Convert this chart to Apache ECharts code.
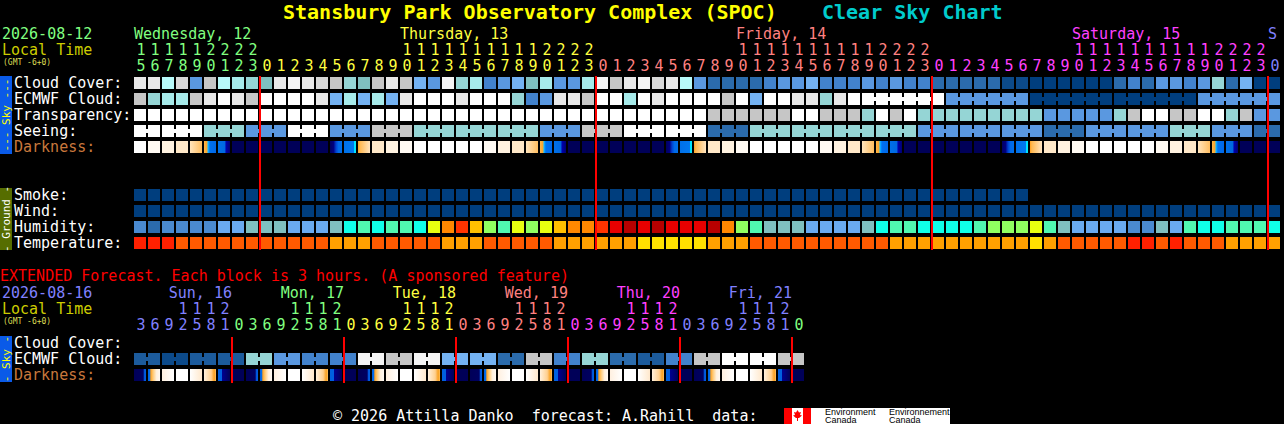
<!DOCTYPE html>
<html>
<head>
<meta charset="utf-8">
<script src="https://cdn.jsdelivr.net/npm/echarts@6/dist/echarts.min.js"></script>
<style>
html,body{margin:0;padding:0;background:#000;}
#chart{width:1284px;height:424px;}
</style>
</head>
<body>
<div id="chart"></div>
<script>
// ================= DATA =================
// hourly forecast categories (local hour of each block)
const mainHours = [15,16,17,18,19,20,21,22,23,
  0,1,2,3,4,5,6,7,8,9,10,11,12,13,14,15,16,17,18,19,20,21,22,23,
  0,1,2,3,4,5,6,7,8,9,10,11,12,13,14,15,16,17,18,19,20,21,22,23,
  0,1,2,3,4,5,6,7,8,9,10,11,12,13,14,15,16,17,18,19,20,21,22,23,
  0];
const mainDays = ['Wednesday, 12','Thursday, 13','Friday, 14','Saturday, 15','S'];
const mainDayColors = ['#80ff80','#ffff40','#ff8080','#ff40ff','#8080ff'];
const mainRows = ['Cloud Cover:','ECMWF Cloud:','Transparency:','Seeing:','Darkness:','','','Smoke:','Wind:','Humidity:','Temperature:'];

// extended (3-hour blocks)
const extHours = [3,6,9,12,15,18,21,
  0,3,6,9,12,15,18,21,
  0,3,6,9,12,15,18,21,
  0,3,6,9,12,15,18,21,
  0,3,6,9,12,15,18,21,
  0,3,6,9,12,15,18,21,
  0];
const extDays = ['Sun, 16','Mon, 17','Tue, 18','Wed, 19','Thu, 20','Fri, 21',''];
const extDayColors = ['#8080ff','#80ff80','#ffff40','#ff8080','#ff40ff','#8080ff','#80ff80'];
const extRows = ['Cloud Cover:','ECMWF Cloud:','Darkness:'];

// shade levels (index into palettes below)
const cloudCover = [13,13,10,12,5,11,10,9,8,7, 13,14,13,12,11,8,7,11,13,11, 6,5,14,8,9,4,5,6,7,9, 5,5,9,14,11,13,14,12,13,10,
  5,3,3,3,3,4,5,5,6,4, 4,4,5,4,5,4,4,3,3,3, 3,3,1,1,0,0,0,0,0,0, 3,4,3,5,5,4,5,8,3,6, 0,0];
const ecmwfCloud = [11,8,9,9,11,13,15,13,11,15, 15,15,15,13,6,9,6,9,6,13, 15,15,15,13,15,15,15,8,4,5, 13,13,11,15,15,9,15,13,15,15,
  15,15,11,15,6,15,15,13,13,8, 13,15,15,15,15,15,15,15,5,5, 5,5,5,5,0,0,0,0,0,0, 0,0,0,0,0,0,5,5,5,5, 5,5];
const transparency = [15,15,15,15,15,15,15,15,15,15, 15,15,15,15,15,15,15,15,15,15, 15,15,15,15,15,15,15,15,15,15, 15,15,15,15,15,15,15,15,15,15,
  15,11,11,11,11,11,11,15,15,11, 11,11,8,15,11,15,8,8,8,8, 8,8,8,8,8,5,5,5,5,5, 8,11,15,15,11,11,15,15,8,11, 5,5];
const seeing = [15,15,15,15,15,8,8,8,5,5, 5,15,15,15,5,5,5,11,11,11, 8,8,8,8,8,8,8,8,8,5, 5,5,11,11,11,15,15,15,15,15,
  15,3,3,3,8,8,8,8,8,8, 8,8,8,8,8,8,5,5,5,5, 5,5,5,5,5,3,3,3,5,5, 5,5,5,5,8,8,8,5,5,5, 3,3];
const darkness = [0,1,2,3,4,5,6,7,7,7, 7,7,7,7,8,9,10,3,2,1, 0,0,0,0,0,1,2,3,4,5, 6,7,7,7,7,7,7,7,8,9,
  10,3,2,1,0,0,0,0,0,1, 2,3,4,5,6,7,7,7,7,7, 7,7,8,9,10,3,2,1,0,0, 0,0,0,1,2,3,4,5,6,7, 7,7];
const smoke = [0,0,0,0,0,0,0,0,0,0, 0,0,0,0,0,0,0,0,0,0, 0,0,0,0,0,0,0,0,0,0, 0,0,0,0,0,0,0,0,0,0,
  0,0,0,0,0,0,0,0,0,0, 0,0,0,0,0,0,0,0,0,0, 0,0,0,0,null,null,null,null,null,null, null,null,null,null,null,null,null,null,null,null, null,null];
const wind = [0,0,0,0,0,0,0,0,0,0, 0,0,0,0,0,0,0,0,0,0, 0,0,0,0,0,0,0,0,0,0, 0,0,0,0,0,0,0,0,0,0,
  0,0,0,0,0,0,0,0,0,0, 0,0,0,0,0,0,0,0,0,0, 0,0,0,0,0,0,0,0,0,0, 0,0,0,0,0,0,0,0,0,0, 0,0];
const humidity = [1,0,1,1,1,1,2,2,3,3, 3,2,2,2,3,4,5,4,5,5, 4,7,9,10,8,6,5,7,6,7, 8,9,9,10,11,12,11,12,11,11,
  11,12,9,6,5,3,3,3,2,2, 2,2,3,4,5,5,4,4,4,4, 5,6,6,6,7,5,3,2,2,2, 2,1,1,3,2,5,4,4,5,5, 5,4];
const temperature = [3,3,3,2,2,2,2,2,2,2, 2,2,2,2,1,1,1,2,2,2, 2,2,1,1,1,2,2,2,2,2, 1,1,1,1,1,1,0,0,0,0,
  0,1,1,1,2,2,2,2,2,2, 2,2,2,2,1,1,1,1,1,1, 1,1,1,1,0,1,2,2,2,2, 2,3,3,2,3,2,2,2,1,1, 1,1];

const extCloudCover = []; // no blocks drawn in the reference
const extEcmwf = [2,2,1,1,2,2,2,2,8,8, 5,5,4,4,4,4,14,14,11,11, 14,14,6,6,6,6,3,3,11,11,
  4,4,8,8,3,3,2,2,4,4, 11,11,15,15,15,15,11,11];
const extDarkness = [1,2,3,4,5,6,7,0, 1,2,3,4,5,6,7,0, 1,2,3,4,5,6,7,0, 1,2,3,4,5,6,7,0, 1,2,3,4,5,6,7,0, 1,2,3,4,5,6,7,0];

// palettes
const skyShades = ['#003e7e','#0c4a8a','#1c5b9c','#2b6bac','#4282cc','#5a98e0','#74b2f2','#7fbfbf',
  '#95d5d5','#a6eaea','#b8fafa','#c6c6c6','#d8d8d8','#e8e8e8','#f4f4f4','#ffffff'];
const darkShades = [
  '#ffffff','#fffaf3','#fff2e0','#ffe8c8',
  [[0,'#ffe4bc'],[1,'#ffbe60']],
  [[0,'#ffb848'],[0.28,'#f8a028'],[0.3,'#20c8ff'],[0.42,'#0090ff'],[0.5,'#0070f0'],[1,'#0068e8']],
  [[0,'#0070e8'],[0.58,'#0068e0'],[0.66,'#0000b0'],[1,'#000070']],
  '#000058',
  [[0,'#000060'],[0.3,'#000080'],[0.5,'#0040d0'],[0.7,'#0068e8'],[1,'#0070e8']],
  [[0,'#0070e8'],[0.82,'#0078f0'],[0.86,'#00e0ff'],[1,'#00e8ff']],
  [[0,'#ffa020'],[0.15,'#ffb850'],[1,'#ffe4c0']]
];
const extDarkShades = [
  '#000058',
  [[0,'#000058'],[0.78,'#000060'],[0.82,'#0050d8'],[1,'#0060e0']],
  [[0,'#0060e0'],[0.18,'#0070f0'],[0.22,'#ffa020'],[0.4,'#ffc870'],[0.7,'#fff0dc'],[1,'#fffaf4']],
  [[0,'#fff0e0'],[1,'#ffffff']],
  '#ffffff',
  [[0,'#ffffff'],[1,'#ffe8cc']],
  [[0,'#fff0dc'],[0.6,'#ffd090'],[0.85,'#f8a020'],[1,'#ffc060']],
  [[0,'#0060e0'],[0.3,'#0060e0'],[0.36,'#000090'],[1,'#000058']]
];
const smokeShades = ['#003e7e'];
const windShades = ['#003e7e'];
const humidityShades = ['#2b6bac','#4a8ad0','#6aaaf0','#7fbfbf','#10ffe8','#50f8b0','#90ff60',
  '#e8ff10','#ffc000','#ff8800','#ff3300','#e80000','#b80000'];
const temperatureShades = ['#ffe000','#ffa000','#ff5a00','#ff2000'];

// ================= LAYOUT HELPERS =================
const FONT = '"DejaVu Sans Mono", monospace';
const LH = 12; // compact line height so stacked label rows do not overlap
const ECMWF_HOURLY = 52; // ECMWF is hourly for the first cells, then 6-hourly blocks

function dayIndexOf(hours) {
  let d = 0;
  return hours.map((h, i) => { if (i > 0 && h === 0) d++; return d; });
}
const mainDayOf = dayIndexOf(mainHours);
const extDayOf = dayIndexOf(extHours);

function groups(hours, startTest) {
  let g = 0;
  return hours.map((h, i) => { if (i > 0 && startTest(h, i)) g++; return g; });
}
const seeingGroup = groups(mainHours, h => h % 3 === 2);
const ecmwfGroup = groups(mainHours, (h, i) => i < ECMWF_HOURLY || h % 6 === 1);
const extEcmwfGroup = groups(extHours, h => h % 6 === 3);

function paint(s) {
  if (Array.isArray(s)) {
    return new echarts.graphic.LinearGradient(0, 0, 1, 0, s.map(p => ({offset: p[0], color: p[1]})));
  }
  return s;
}

function rowSeries(gridIdx, rowIdx, values, shades, groupOf) {
  const data = [];
  values.forEach((v, i) => { if (v !== null && v !== undefined) data.push([i, rowIdx, v]); });
  return {
    type: 'custom',
    xAxisIndex: gridIdx === 0 ? 0 : 2,
    yAxisIndex: gridIdx,
    z: 2,
    silent: true,
    data: data,
    renderItem: function (params, api) {
      const i = api.value(0);
      const v = api.value(2);
      const c = api.coord([i, rowIdx]);
      const bw = api.size([1, 0])[0];
      const left = c[0] - bw / 2;
      const fill = paint(shades[v]);
      const children = [{
        type: 'rect',
        shape: {x: left, y: c[1] - 6, width: bw - 2, height: 12},
        style: {fill: fill}
      }];
      if (groupOf && i + 1 < values.length && groupOf[i] === groupOf[i + 1] && values[i + 1] === v) {
        children.push({
          type: 'rect',
          shape: {x: left + bw - 3, y: c[1] - 2, width: 4, height: 4},
          style: {fill: fill}
        });
      }
      return {type: 'group', children: children};
    }
  };
}

function midnightSeries(gridIdx, hours, rowCount, topPad, botPad) {
  const data = [];
  hours.forEach((h, i) => { if (h === 0) data.push([i, 0]); });
  return {
    type: 'custom',
    xAxisIndex: gridIdx === 0 ? 0 : 2,
    yAxisIndex: gridIdx,
    z: 5,
    silent: true,
    data: data,
    renderItem: function (params, api) {
      const i = api.value(0);
      const top = api.coord([i, 0]);
      const bot = api.coord([i, rowCount - 1]);
      const bw = api.size([1, 0])[0];
      const x = top[0] - bw / 2;
      return {type: 'rect', shape: {x: x - 1, y: top[1] - topPad, width: 2, height: bot[1] + botPad - (top[1] - topPad)},
        style: {fill: '#ff0000'}};
    }
  };
}

function hourAxis(gridIdx, hours, dayOf, colors, offset, margin, tens) {
  return {
    gridIndex: gridIdx,
    type: 'category',
    position: 'top',
    offset: offset,
    data: hours.map((h, i) => 'c' + i),
    axisLine: {show: false}, axisTick: {show: false}, splitLine: {show: false},
    axisLabel: {
      interval: 0, margin: margin, verticalAlign: 'middle',
      fontFamily: FONT, fontSize: 15, lineHeight: LH,
      formatter: function (v) {
        const h = hours[parseInt(v.slice(1), 10)];
        if (tens) return h >= 10 ? String(Math.floor(h / 10)) : '';
        return String(h % 10);
      },
      color: function (v) { return colors[dayOf[parseInt(v.slice(1), 10)]]; }
    }
  };
}

function rowAxis(gridIdx, rows, darkRow) {
  return {
    gridIndex: gridIdx,
    type: 'category',
    inverse: true,
    data: rows,
    axisLine: {show: false}, axisTick: {show: false}, splitLine: {show: false},
    axisLabel: {
      interval: 0, align: 'left', margin: 120,
      fontFamily: FONT, fontSize: 15, lineHeight: LH,
      color: function (v) { return v === darkRow ? '#c8783c' : '#ffffff'; }
    }
  };
}

const R = name => mainRows.indexOf(name);
const E = name => extRows.indexOf(name);

const option = {
  backgroundColor: '#000000',
  animation: false,
  grid: [
    {left: 134, top: 75, width: 1148, height: 176, containLabel: false, outerBoundsMode: 'none'},
    {left: 134, top: 335, width: 672, height: 48, containLabel: false, outerBoundsMode: 'none'}
  ],
  xAxis: [
    hourAxis(0, mainHours, mainDayOf, mainDayColors, 0, 9, false),
    hourAxis(0, mainHours, mainDayOf, mainDayColors, 16, 9, true),
    hourAxis(1, extHours, extDayOf, extDayColors, 0, 10, false),
    hourAxis(1, extHours, extDayOf, extDayColors, 16, 10, true)
  ],
  yAxis: [
    rowAxis(0, mainRows, 'Darkness:'),
    rowAxis(1, extRows, 'Darkness:')
  ],
  series: [
    rowSeries(0, R('Cloud Cover:'), cloudCover, skyShades, null),
    rowSeries(0, R('ECMWF Cloud:'), ecmwfCloud, skyShades, ecmwfGroup),
    rowSeries(0, R('Transparency:'), transparency, skyShades, null),
    rowSeries(0, R('Seeing:'), seeing, skyShades, seeingGroup),
    rowSeries(0, R('Darkness:'), darkness, darkShades, null),
    rowSeries(0, R('Smoke:'), smoke, smokeShades, null),
    rowSeries(0, R('Wind:'), wind, windShades, null),
    rowSeries(0, R('Humidity:'), humidity, humidityShades, null),
    rowSeries(0, R('Temperature:'), temperature, temperatureShades, null),
    rowSeries(1, E('Cloud Cover:'), extCloudCover, skyShades, null),
    rowSeries(1, E('ECMWF Cloud:'), extEcmwf, skyShades, extEcmwfGroup),
    rowSeries(1, E('Darkness:'), extDarkness, extDarkShades, null),
    midnightSeries(0, mainHours, mainRows.length, 7, 7),
    midnightSeries(1, extHours, extRows.length, 6, 8)
  ]
};

const chart = echarts.init(document.getElementById('chart'), null, {renderer: 'svg'});
chart.setOption(option);

// ================= TEXT / DECORATION =================
function txt(x, y, text, fill, font, align, extra, lh) {
  const el = {
    type: 'text', x: x, y: y, silent: true, z: 10,
    style: {text: text, fill: fill, font: font, align: align || 'left', verticalAlign: 'middle',
            textAlign: align || 'left', textVerticalAlign: 'middle', lineHeight: lh || LH}
  };
  if (extra) Object.assign(el, extra);
  return el;
}
const f15 = '15px ' + FONT;
const f8 = '8px ' + FONT;

const px = (axis, i) => chart.convertToPixel({xAxisIndex: axis}, i);
const py = (axis, i) => chart.convertToPixel({yAxisIndex: axis}, i);
const bw = px(0, 1) - px(0, 0);
const bh = py(0, 1) - py(0, 0);

const g = [];
// header
g.push(txt(283, 12, 'Stansbury Park Observatory Complex (SPOC)', '#ffff00', 'bold 20px ' + FONT, 'left', null, 18));
g.push(txt(822, 12, 'Clear Sky Chart', '#00cccc', 'bold 20px ' + FONT, 'left', null, 18));
g.push(txt(2, 34, '2026-08-12', mainDayColors[0], f15));
g.push(txt(2, 50, 'Local Time', '#cccc00', f15));
g.push(txt(3, 62, '(GMT -6+0)', '#dddd55', f8, 'left', null, 7));

// main day names: at 10h of each day (or first available hour)
mainDays.forEach((name, d) => {
  let idx = mainHours.findIndex((h, i) => mainDayOf[i] === d && h >= 10);
  if (idx < 0) idx = mainDayOf.indexOf(d);
  g.push(txt(px(0, idx) - bw / 2, 34, name, mainDayColors[d], f15));
});

// extended header
g.push(txt(0, 276, 'EXTENDED Forecast. Each block is 3 hours. (A sponsored feature)', '#ff0000', f15));
g.push(txt(2, 293, '2026-08-16', extDayColors[0], f15));
g.push(txt(2, 309, 'Local Time', '#cccc00', f15));
g.push(txt(3, 321, '(GMT -6+0)', '#dddd55', f8, 'left', null, 7));
const ebw = px(2, 1) - px(2, 0);
extDays.forEach((name, d) => {
  if (!name) return;
  const last = extDayOf.lastIndexOf(d);
  g.push(txt(px(2, last) + ebw / 2, 293, name, extDayColors[d], f15, 'right'));
});

// side bars
function sideBar(yAxis, r0, r1, color, label, textColor) {
  const top = py(yAxis, r0) - bh / 2 + 1;
  const bot = py(yAxis, r1) + bh / 2 - 1;
  g.push({type: 'rect', silent: true, z: 9, shape: {x: 0, y: top, width: 12, height: bot - top}, style: {fill: color}});
  g.push(txt(6, (top + bot) / 2, label, textColor, '11px ' + FONT, 'center', {rotation: Math.PI / 2}, 9));
}
sideBar(0, R('Cloud Cover:'), R('Darkness:'), '#0a5ae8', '--- Sky ---', '#ffff00');
sideBar(0, R('Smoke:'), R('Temperature:'), '#566d00', '- Ground -', '#ffffff');
sideBar(1, E('Cloud Cover:'), E('Darkness:'), '#0a5ae8', '- Sky -', '#ffff00');

// footer
g.push(txt(333, 416, '\u00a9 2026 Attilla Danko\u00a0\u00a0forecast: A.Rahill\u00a0\u00a0data:', '#ffffff', f15));
// Environment Canada logo
g.push({type: 'rect', silent: true, shape: {x: 784, y: 408, width: 27, height: 16}, style: {fill: '#ff0000'}});
g.push({type: 'rect', silent: true, shape: {x: 792, y: 408, width: 11, height: 16}, style: {fill: '#ffffff'}});
g.push({type: 'polygon', silent: true, shape: {points: [[797.5,410],[799,412.5],[801,412],[800,415],[802,415.5],[799,418],[798,418],[798,421],[797,421],[797,418],[796,418],[793,415.5],[795,415],[794,412],[796,412.5]]}, style: {fill: '#ff0000'}});
g.push({type: 'rect', silent: true, shape: {x: 811, y: 408, width: 139, height: 16}, style: {fill: '#ffffff'}});
const logoFont = '9px "Liberation Sans", sans-serif';
g.push(txt(825, 412, 'Environment', '#000000', logoFont, 'left', null, 7));
g.push(txt(825, 420, 'Canada', '#000000', logoFont, 'left', null, 7));
g.push(txt(889, 412, 'Environnement', '#000000', logoFont, 'left', null, 7));
g.push(txt(889, 420, 'Canada', '#000000', logoFont, 'left', null, 7));

chart.setOption({graphic: {elements: g}});
</script>
</body>
</html>
